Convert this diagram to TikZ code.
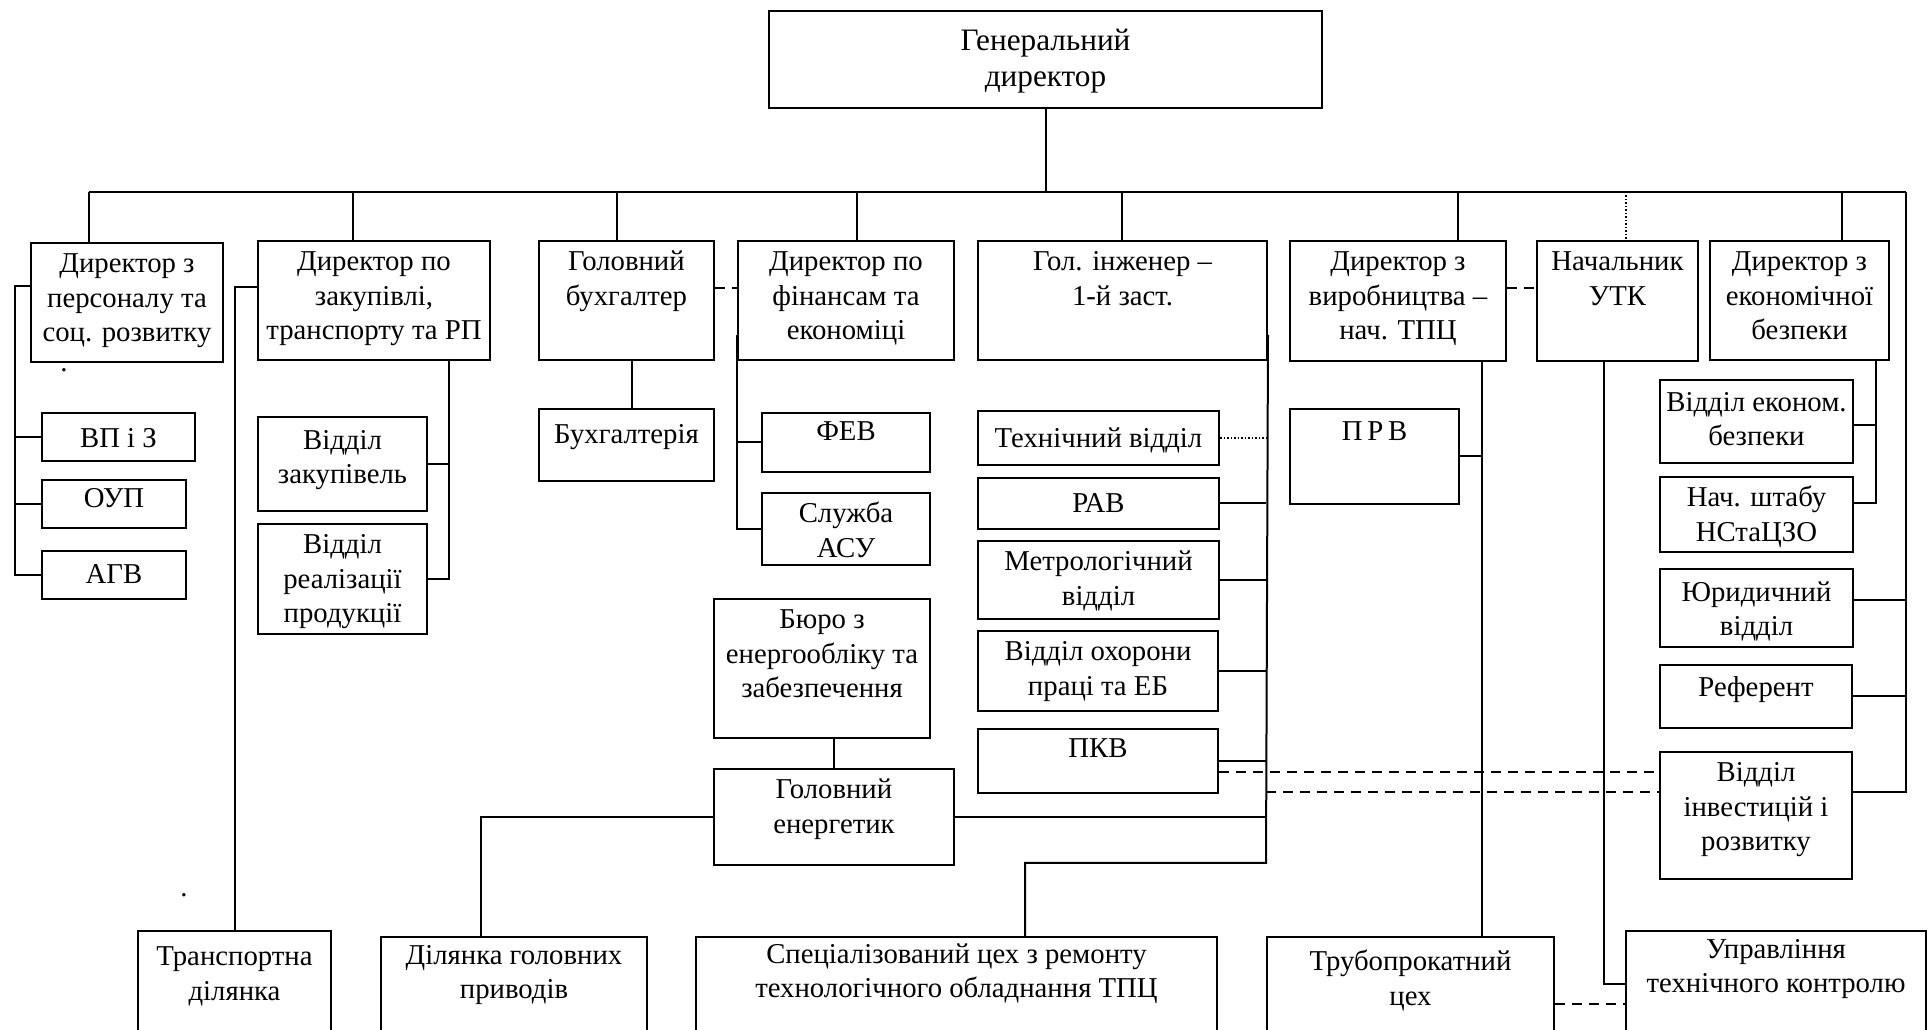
\documentclass[tikz,border=0pt]{standalone}
\usepackage{fontspec}
\setmainfont{Liberation Serif}

\newlength{\pxu}
\setlength{\pxu}{0.4pt}
\newcommand{\obox}[4][12pt]{\parbox[t][#3\pxu][t]{#2\pxu}{\centering\rule{0pt}{#1}#4}}

\tikzset{
  box/.style={draw, line width=0.8pt, inner sep=0pt, anchor=north west, font=\fontsize{11.5}{13.8}\selectfont},
  big/.style={font=\fontsize{12.5}{14.4}\selectfont},
  dashline/.style={line width=0.8pt, dash pattern=on 4pt off 2.8pt},
  dotline/.style={line width=0.6pt, dash pattern=on 0.6pt off 0.8pt},
  dotmark/.style={inner sep=0pt, anchor=base, font=\fontsize{11.5}{13.8}\selectfont}
}

\begin{document}
\begin{tikzpicture}[x=0.4pt, y=-0.4pt, line width=0.8pt]
\useasboundingbox (0,0) rectangle (1928,1030);
\clip (0,0) rectangle (1928,1030);

\node (gd)[box, big] at (768,10) {\obox[16pt]{553}{97}{Генеральний\\директор}};

\node (dp)[box] at (30,242) {\obox{192}{119}{Директор з\\персоналу та\\соц. розвитку}};
\node (dz)[box] at (257,240) {\obox{232}{119}{Директор по\\закупівлі,\\транспорту та РП}};
\node (gb)[box] at (538,240) {\obox{175}{119}{Головний\\бухгалтер}};
\node (df)[box] at (737,240) {\obox{216}{119}{Директор по\\фінансам та\\економіці}};
\node (gi)[box] at (977,240) {\obox{289}{119}{Гол. інженер –\\1-й заст.}};
\node (dv)[box] at (1289,240) {\obox{216}{120}{Директор з\\виробництва –\\нач. ТПЦ}};
\node (utk)[box] at (1536,240) {\obox{161}{120}{Начальник\\УТК}};
\node (deb)[box] at (1709,240) {\obox{179}{119}{Директор з\\економічної\\безпеки}};

\node (vpz)[box] at (41,412) {\obox[14pt]{153}{48}{ВП і З}};
\node (oup)[box] at (41,479) {\obox[11pt]{144}{48}{ОУП}};
\node (agv)[box] at (41,550) {\obox[13pt]{144}{48}{АГВ}};

\node (vzak)[box] at (257,416) {\obox[13pt]{169}{94}{Відділ\\закупівель}};
\node (vreal)[box] at (257,523) {\obox{169}{110}{Відділ\\реалізації\\продукції}};

\node (buh)[box] at (538,408) {\obox[14pt]{175}{72}{Бухгалтерія}};
\node (fev)[box] at (761,412) {\obox[11pt]{168}{59}{ФЕВ}};
\node (asu)[box] at (761,492) {\obox{168}{72}{Служба\\АСУ}};
\node (buro)[box] at (713,598) {\obox{216}{139}{Бюро з\\енергообліку та\\забезпечення}};
\node (ge)[box] at (713,768) {\obox{240}{96}{Головний\\енергетик}};

\node (tv)[box] at (977,410) {\obox[14.5pt]{241}{54}{Технічний відділ}};
\node (rav)[box] at (977,477) {\obox[14pt]{241}{51}{РАВ}};
\node (mv)[box] at (977,540) {\obox{241}{78}{Метрологічний\\відділ}};
\node (vop)[box] at (977,630) {\obox{240}{80}{Відділ охорони\\праці та ЕБ}};
\node (pkv)[box] at (977,728) {\obox[11.5pt]{240}{64}{ПКВ}};
\node (prv)[box] at (1289,408) {\obox[12.5pt]{169}{95}{П\,Р\,В}};

\node (veb)[box] at (1659,379) {\obox[12.5pt]{193}{83}{Відділ економ.\\безпеки}};
\node (nsh)[box] at (1659,476) {\obox{193}{75}{Нач. штабу\\НСтаЦЗО}};
\node (yur)[box] at (1659,568) {\obox[13pt]{193}{78}{Юридичний\\відділ}};
\node (ref)[box] at (1659,664) {\obox[12.5pt]{192}{63}{Референт}};
\node (vinv)[box] at (1659,751) {\obox[12pt]{192}{127}{Відділ\\інвестицій і\\розвитку}};

\node (td)[box] at (137,930) {\obox[14pt]{193}{130}{Транспортна\\ділянка}};
\node (dgp)[box] at (380,936) {\obox[11pt]{266}{124}{Ділянка головних\\приводів}};
\node (sc)[box] at (695,936) {\obox[10.5pt]{521}{124}{Спеціалізований цех з ремонту\\технологічного обладнання ТПЦ}};
\node (tpc)[box] at (1266,936) {\obox[13.5pt]{287}{124}{Трубопрокатний\\цех}};
\node (uk)[box] at (1625,930) {\obox[11pt]{300}{130}{Управління\\технічного контролю}};

\node (dot1)[dotmark] at (64,372) {.};
\node (dot2)[dotmark] at (184,897) {.};

\coordinate (busL) at (89,192);
\coordinate (busR) at (1906,192);
\draw (gd.south) -- (gd.south |- busL);
\draw (busL) -- (busR);
\foreach \xx/\nn in {89/dp, 353/dz, 617/gb, 857/df, 1122/gi, 1458/dv, 1842/deb}
  \draw (\xx,192) -- (\xx,192 |- \nn.north);
\draw[dotline] (1626,192) -- (1626,192 |- utk.north);

\draw (busR) |- (vinv.east |- 0,792);
\draw (yur.east |- 0,600) -- (busR |- 0,600);
\draw (ref.east) -- (ref.east -| busR);

\coordinate (dpl) at (15,286);
\draw (dp.west |- dpl) -- (dpl) |- (agv.west);
\draw (vpz.west) -- (vpz.west -| dpl);
\draw (oup.west) -- (oup.west -| dpl);

\draw (dz.west |- 0,287) -| (td.north);
\coordinate (dzr) at (449,359);
\draw (dzr) |- (vreal.east);
\draw (vzak.east) -- (vzak.east -| dzr);

\draw (gb.south -| 632,0) -- (buh.north -| 632,0);
\draw[dashline] (gb.east |- 0,288) -- (df.west |- 0,288);
\draw (df.west |- 0,335) |- (asu.west);
\draw (fev.west) -- (fev.west -| df.west);

\draw (buro.south -| ge.north) -- (ge.north);
\draw (ge.west) -| (481,0 |- dgp.north);

\coordinate (gib) at (1266,863);
\draw (gi.east |- 0,335) -- (gib) -| (1025,0 |- sc.north);
\draw[dotline] (tv.east) -- (tv.east -| gib);
\foreach \nn in {rav, mv, vop, pkv, ge}
  \draw (\nn.east) -- (\nn.east -| gib);
\draw[dashline] (pkv.east |- 0,772) -- (vinv.west |- 0,772);
\draw[dashline] (gib |- 0,792) -- (vinv.west |- 0,792);

\coordinate (dvb) at (1482,360);
\draw (dvb) -- (dvb |- tpc.north);
\draw (prv.east) -- (prv.east -| dvb);
\draw[dashline] (dv.east |- 0,288) -- (utk.west |- 0,288);

\draw (1604,0 |- utk.south) |- (uk.west |- 0,984);
\draw[dashline] (tpc.east |- 0,1004) -- (uk.west |- 0,1004);

\coordinate (debr) at (1876,359);
\draw (debr) |- (nsh.east |- 0,503);
\draw (veb.east |- 0,425) -- (debr |- 0,425);
\end{tikzpicture}
\end{document}
